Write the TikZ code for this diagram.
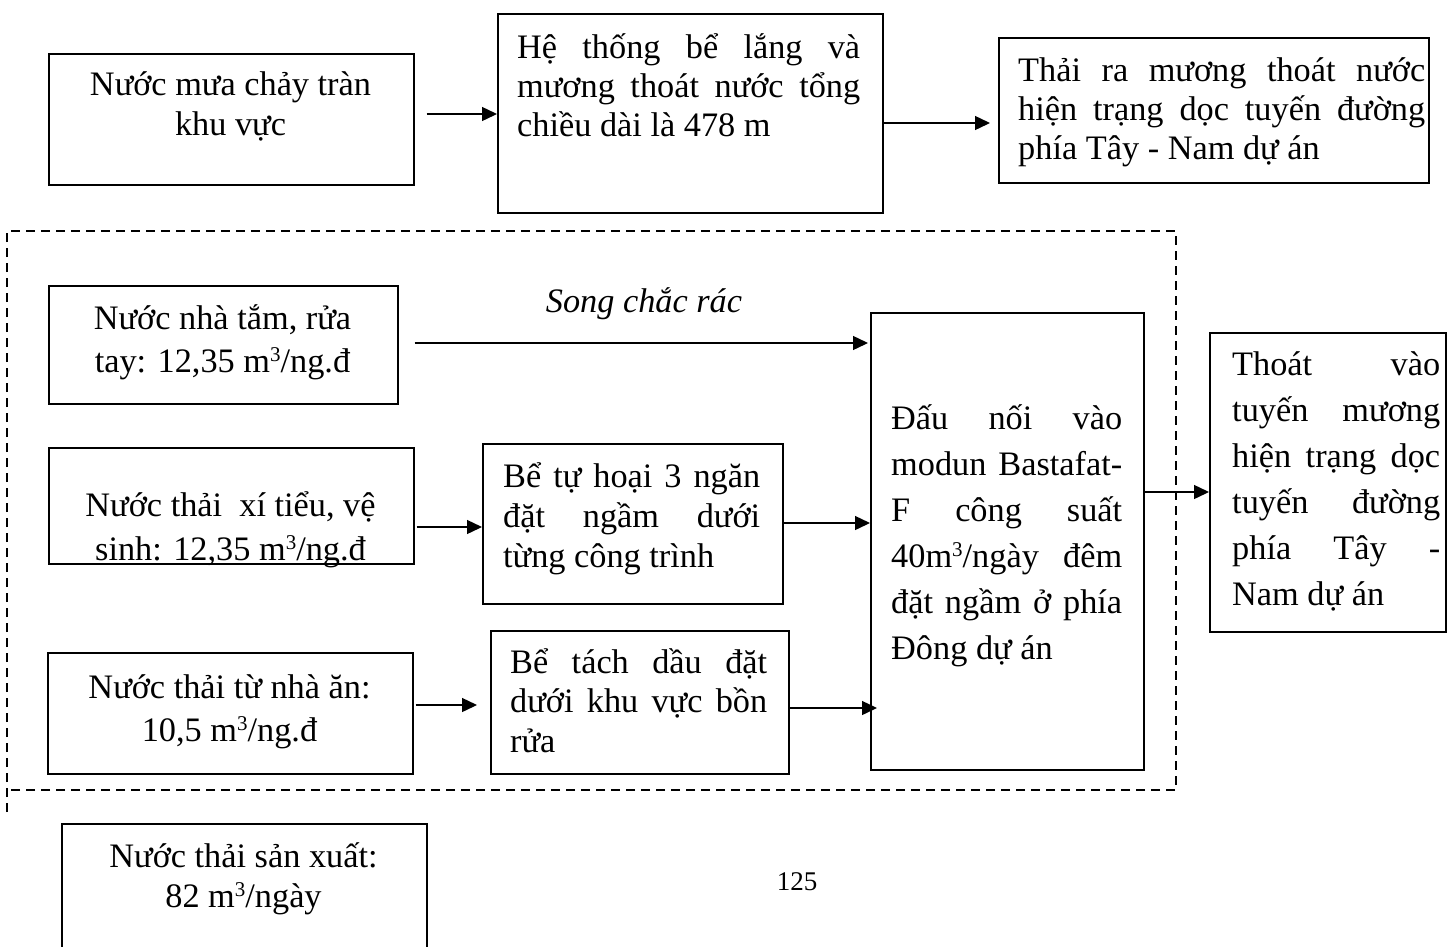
\documentclass[tikz,border=0pt]{standalone}
\usepackage{fontspec}
\setmainfont{Liberation Serif}
\usetikzlibrary{arrows.meta}
\newcommand\jl[2]{\makebox[#1][s]{#2}}
\newcommand\fst{\rule{0pt}{36pt}}
\newcommand\cube{\raisebox{11pt}{\fontsize{21}{21}\selectfont 3}}
\begin{document}
\begin{tikzpicture}[x=1pt,y=-1pt,
  box/.style={draw, line width=1.5pt, inner sep=0pt, anchor=north west},
  txt/.style={inner sep=0pt, font=\fontsize{34.3}{40}\selectfont},
  arr/.style={line width=1.4pt, -{Triangle[length=15pt,width=14pt]}},
  dashframe/.style={line width=1.4pt, dash pattern=on 9pt off 6pt}]
\useasboundingbox (0,0) rectangle (1453,946);
\clip (0,0) rectangle (1453,946);

% boxes
\node[box, minimum width=365, minimum height=131] (b1) at (48,53) {};
\node[box, minimum width=385, minimum height=199] (b2) at (497,13) {};
\node[box, minimum width=430, minimum height=145] (b3) at (998,37) {};
\node[box, minimum width=349, minimum height=118] (b4) at (48,285) {};
\node[box, minimum width=365, minimum height=116] (b5) at (48,447) {};
\node[box, minimum width=365, minimum height=121] (b6) at (47,652) {};
\node[box, minimum width=300, minimum height=160] (b7) at (482,443) {};
\node[box, minimum width=298, minimum height=143] (b8) at (490,630) {};
\node[box, minimum width=273, minimum height=457] (b9) at (870,312) {};
\node[box, minimum width=236, minimum height=299] (b10) at (1209,332) {};
\node[box, minimum width=365, minimum height=160] (b11) at (61,823) {};

% texts
\node[txt, align=center, anchor=north] (t1) at (230.5,59)
  {\fst Nước mưa chảy tràn\\khu vực};
\node[txt, align=left, anchor=north west, font=\fontsize{34.3}{39}\selectfont] (t2) at (517,22)
  {\fst\jl{343pt}{Hệ thống bể lắng và}\\\jl{343pt}{mương thoát nước tổng}\\chiều dài là 478 m};
\node[txt, align=left, anchor=north west, font=\fontsize{34.3}{39}\selectfont] (t3) at (1018,45)
  {\fst\jl{407pt}{Thải ra mương thoát nước}\\\jl{407pt}{hiện trạng dọc tuyến đường}\\phía Tây - Nam dự án};
\node[txt, align=center, anchor=north, font=\fontsize{34.3}{43}\selectfont] (t4) at (222.5,293)
  {\fst Nước nhà tắm, rửa\\tay: 12,35 m\cube/ng.đ};
\node[txt, align=center, anchor=north, font=\fontsize{34.3}{44}\selectfont] (t5) at (230.5,480)
  {\fst Nước thải~ xí tiểu, vệ\\sinh: 12,35 m\cube/ng.đ};
\node[txt, align=center, anchor=north, font=\fontsize{34.3}{43}\selectfont] (t6) at (229.5,662)
  {\fst Nước thải từ nhà ăn:\\10,5 m\cube/ng.đ};
\node[txt, align=left, anchor=north west] (t7) at (503,451)
  {\fst\jl{257pt}{Bể tự hoại 3 ngăn}\\\jl{257pt}{đặt ngầm dưới}\\từng công trình};
\node[txt, align=left, anchor=north west, font=\fontsize{34.3}{39.5}\selectfont] (t8) at (510,637)
  {\fst\jl{257pt}{Bể tách dầu đặt}\\\jl{257pt}{dưới khu vực bồn}\\rửa};
\node[txt, align=left, anchor=north west, font=\fontsize{34.3}{46}\selectfont] (t9) at (891,393)
  {\fst\jl{231pt}{Đấu nối vào}\\\jl{231pt}{modun Bastafat-}\\\jl{231pt}{F công suất}\\\jl{231pt}{40m\cube/ngày đêm}\\\jl{231pt}{đặt ngầm ở phía}\\Đông dự án};
\node[txt, align=left, anchor=north west, font=\fontsize{34.3}{46}\selectfont] (t10) at (1232,339)
  {\fst\jl{208pt}{Thoát vào}\\\jl{208pt}{tuyến mương}\\\jl{208pt}{hiện trạng dọc}\\\jl{208pt}{tuyến đường}\\\jl{208pt}{phía Tây -}\\Nam dự án};
\node[txt, align=center, anchor=north] (t11) at (243.5,831)
  {\fst Nước thải sản xuất:\\82 m\cube/ngày};
\node[txt, anchor=base, font=\fontsize{34.3}{40}\selectfont\itshape] (lbl) at (644,312) {Song chắc rác};
\node[txt, anchor=base, font=\fontsize{27}{32}\selectfont] (pg) at (797,890) {125};

% dashed frame
\draw[dashframe] (7,812) -- (7,231) -- (1176,231) -- (1176,790) -- (7,790);

% arrows
\draw[arr, shorten <=12pt] (b1.east |- 0,114) -- (b2.west |- 0,114);
\draw[arr, shorten >=8pt] (b2.east |- 0,123) -- (b3.west |- 0,123);
\draw[arr, shorten <=16pt, shorten >=2pt] (b4.east |- 0,343) -- (b9.west |- 0,343);
\draw[arr, shorten <=2pt] (b5.east |- 0,527) -- (b7.west |- 0,527);
\draw[arr] (b7.east |- 0,523) -- (b9.west |- 0,523);
\draw[arr, shorten <=2pt, shorten >=13pt] (b6.east |- 0,705) -- (b8.west |- 0,705);
\draw[arr, shorten >=-7pt] (b8.east |- 0,708) -- (b9.west |- 0,708);
\draw[arr] (b9.east |- 0,492) -- (b10.west |- 0,492);
\end{tikzpicture}
\end{document}
